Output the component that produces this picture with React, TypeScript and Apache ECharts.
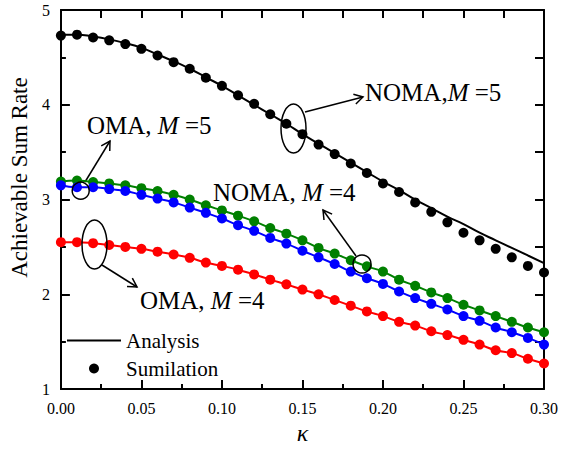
import React, { useEffect, useRef } from "react";
import * as echarts from "echarts";

const kappa = [0, 0.01, 0.02, 0.03, 0.04, 0.05, 0.06, 0.07, 0.08, 0.09, 0.1, 0.11, 0.12, 0.13, 0.14, 0.15, 0.16, 0.17, 0.18, 0.19, 0.2, 0.21, 0.22, 0.23, 0.24, 0.25, 0.26, 0.27, 0.28, 0.29, 0.3];

const nomaM5Analysis = [4.74, 4.74, 4.72, 4.69, 4.65, 4.6, 4.53, 4.46, 4.38, 4.29, 4.2, 4.1, 4.0, 3.9, 3.8, 3.69, 3.59, 3.49, 3.39, 3.29, 3.19, 3.1, 3.0, 2.91, 2.82, 2.74, 2.65, 2.57, 2.49, 2.41, 2.33];
const nomaM5Sim = [4.73, 4.74, 4.71, 4.68, 4.64, 4.59, 4.52, 4.45, 4.38, 4.285, 4.2, 4.1, 4.01, 3.9, 3.8, 3.69, 3.58, 3.48, 3.38, 3.28, 3.17, 3.08, 2.97, 2.87, 2.76, 2.65, 2.57, 2.48, 2.39, 2.3, 2.23];
const greenM5 = [3.19, 3.2, 3.185, 3.17, 3.15, 3.12, 3.09, 3.05, 3.0, 2.94, 2.885, 2.83, 2.77, 2.7, 2.64, 2.57, 2.49, 2.43, 2.36, 2.295, 2.24, 2.155, 2.09, 2.02, 1.96, 1.89, 1.83, 1.77, 1.71, 1.65, 1.6];
const blueM4 = [3.15, 3.13, 3.13, 3.11, 3.09, 3.05, 3.01, 2.97, 2.915, 2.86, 2.8, 2.73, 2.67, 2.595, 2.535, 2.46, 2.39, 2.32, 2.24, 2.17, 2.11, 2.03, 1.96, 1.9, 1.84, 1.77, 1.72, 1.65, 1.6, 1.54, 1.47];
const redM4 = [2.55, 2.55, 2.54, 2.52, 2.5, 2.48, 2.45, 2.42, 2.385, 2.335, 2.3, 2.26, 2.21, 2.155, 2.105, 2.05, 2.0, 1.94, 1.88, 1.82, 1.77, 1.71, 1.67, 1.61, 1.57, 1.52, 1.47, 1.41, 1.38, 1.32, 1.27];

const xTickLabels = ["0.00", "0.05", "0.10", "0.15", "0.20", "0.25", "0.30"];
const yTickLabels = ["1", "2", "3", "4", "5"];

const SERIF = "'Liberation Serif', 'Times New Roman', serif";

const pairs = (ys: number[]) => kappa.map((k, i) => [k, ys[i]]);

function arrow(x1: number, y1: number, x2: number, y2: number) {
  const ang = Math.atan2(y2 - y1, x2 - x1);
  const L = 10;
  const a = Math.PI / 6;
  const p1 = [x2 - L * Math.cos(ang - a), y2 - L * Math.sin(ang - a)];
  const p2 = [x2 - L * Math.cos(ang + a), y2 - L * Math.sin(ang + a)];
  const st = { stroke: "#000", lineWidth: 1.5, fill: "none" };
  return [
    { type: "line", shape: { x1, y1, x2, y2 }, style: st, silent: true },
    { type: "polyline", shape: { points: [p1, [x2, y2], p2] }, style: st, silent: true },
  ];
}

function label(x: number, y: number, pre: string, post: string) {
  return {
    type: "text",
    x,
    y,
    silent: true,
    style: {
      text: pre + "{i|M}" + post,
      fontFamily: SERIF,
      fontSize: 25,
      fill: "#000",
      verticalAlign: "middle",
      rich: {
        i: { fontFamily: SERIF, fontSize: 25, fontStyle: "italic", fill: "#000" },
      },
    },
  };
}

export default function App() {
  const ref = useRef<HTMLDivElement>(null);
  useEffect(() => {
    document.body.style.margin = "0";
    if (!ref.current) return;
    const chart = echarts.init(ref.current, null, { renderer: "svg" });
    const axisLine = { show: true, onZero: false, lineStyle: { color: "#000", width: 2 } };
    const lineS = (name: string, ys: number[], color: string) => ({
      name,
      type: "line",
      data: pairs(ys),
      symbol: "none",
      smooth: true,
      lineStyle: { color, width: 2 },
      itemStyle: { color },
      z: 2,
    });
    const dotS = (name: string, ys: number[], color: string) => ({
      name,
      type: "scatter",
      data: pairs(ys),
      symbol: "circle",
      symbolSize: 10,
      itemStyle: { color, opacity: 1 },
      z: 3,
    });
    const option: any = {
      animation: false,
      backgroundColor: "#fff",
      grid: { left: 60, right: 16, top: 10, bottom: 58, containLabel: false },
      xAxis: [
        {
          type: "value",
          position: "bottom",
          min: 0,
          max: 0.3,
          interval: 0.05,
          axisLine,
          axisTick: { show: true, inside: true, length: 9, lineStyle: { color: "#000", width: 2 } },
          minorTick: { show: true, splitNumber: 2, length: 5, lineStyle: { color: "#000", width: 2 } },
          splitLine: { show: false },
          axisLabel: {
            color: "#000",
            fontFamily: SERIF,
            fontSize: 16,
            margin: 11,
            formatter: (v: number) => xTickLabels[Math.round(v / 0.05)] ?? v.toFixed(2),
          },
          name: "κ",
          nameLocation: "middle",
          nameGap: 31,
          nameTextStyle: { color: "#000", fontFamily: SERIF, fontSize: 24, fontStyle: "italic" },
        },
        {
          type: "value",
          position: "top",
          min: 0,
          max: 0.3,
          interval: 0.025,
          axisLine,
          axisTick: { show: true, inside: true, length: 8, lineStyle: { color: "#000", width: 2 } },
          splitLine: { show: false },
          axisLabel: { show: false },
        },
      ],
      yAxis: [
        {
          type: "value",
          position: "left",
          min: 1,
          max: 5,
          interval: 1,
          axisLine,
          axisTick: { show: true, inside: true, length: 9, lineStyle: { color: "#000", width: 2 } },
          minorTick: { show: true, splitNumber: 2, length: 5, lineStyle: { color: "#000", width: 2 } },
          splitLine: { show: false },
          axisLabel: {
            color: "#000",
            fontFamily: SERIF,
            fontSize: 16,
            margin: 11,
            formatter: (v: number) => yTickLabels[Math.round(v - 1)] ?? String(v),
          },
          name: "Achievable Sum Rate",
          nameLocation: "middle",
          nameGap: 19,
          nameTextStyle: { color: "#000", fontFamily: SERIF, fontSize: 23, padding: [0, 0, 0, 44] },
        },
        {
          type: "value",
          position: "right",
          min: 1,
          max: 5,
          interval: 0.5,
          axisLine,
          axisTick: { show: true, inside: true, length: 9, lineStyle: { color: "#000", width: 2 } },
          splitLine: { show: false },
          axisLabel: { show: false },
        },
      ],
      legend: {
        orient: "vertical",
        left: 61,
        top: 325,
        itemWidth: 54,
        itemHeight: 10,
        itemGap: 7,
        data: [
          { name: "Analysis", itemStyle: { opacity: 0 } },
          { name: "Sumilation" },
        ],
        textStyle: { color: "#000", fontFamily: SERIF, fontSize: 21 },
        selectedMode: false,
      },
      series: [
        lineS("Analysis", nomaM5Analysis, "#000"),
        dotS("Sumilation", nomaM5Sim, "#000"),
        lineS("OMA M5 line", greenM5, "#008000"),
        dotS("OMA M5 sim", greenM5, "#008000"),
        lineS("NOMA M4 line", blueM4, "#0000ff"),
        dotS("NOMA M4 sim", blueM4, "#0000ff"),
        lineS("OMA M4 line", redM4, "#ff0000"),
        dotS("OMA M4 sim", redM4, "#ff0000"),
      ],
      graphic: [
        { type: "ellipse", shape: { cx: 293.5, cy: 128.5, rx: 12.5, ry: 24.5 }, style: { stroke: "#000", lineWidth: 1.5, fill: "none" }, silent: true, z: 10 },
        ...arrow(305, 112, 363, 97),
        label(365, 92, "NOMA,", " =5"),
        { type: "circle", shape: { cx: 80.7, cy: 190.7, r: 8.5 }, style: { stroke: "#000", lineWidth: 1.5, fill: "none" }, silent: true, z: 10 },
        ...arrow(85, 182, 110, 141),
        label(87, 125, "OMA, ", " =5"),
        { type: "circle", shape: { cx: 362, cy: 264, r: 9 }, style: { stroke: "#000", lineWidth: 1.5, fill: "none" }, silent: true, z: 10 },
        ...arrow(356, 256, 323, 210),
        label(213, 192, "NOMA, ", " =4"),
        { type: "ellipse", shape: { cx: 94.5, cy: 244.5, rx: 12.5, ry: 24.5 }, style: { stroke: "#000", lineWidth: 1.5, fill: "none" }, silent: true, z: 10 },
        ...arrow(102, 265, 137, 287),
        label(140, 300, "OMA, ", " =4"),
      ],
    };
    chart.setOption(option);
    return () => chart.dispose();
  }, []);
  return <div ref={ref} style={{ width: 561, height: 450 }} />;
}
